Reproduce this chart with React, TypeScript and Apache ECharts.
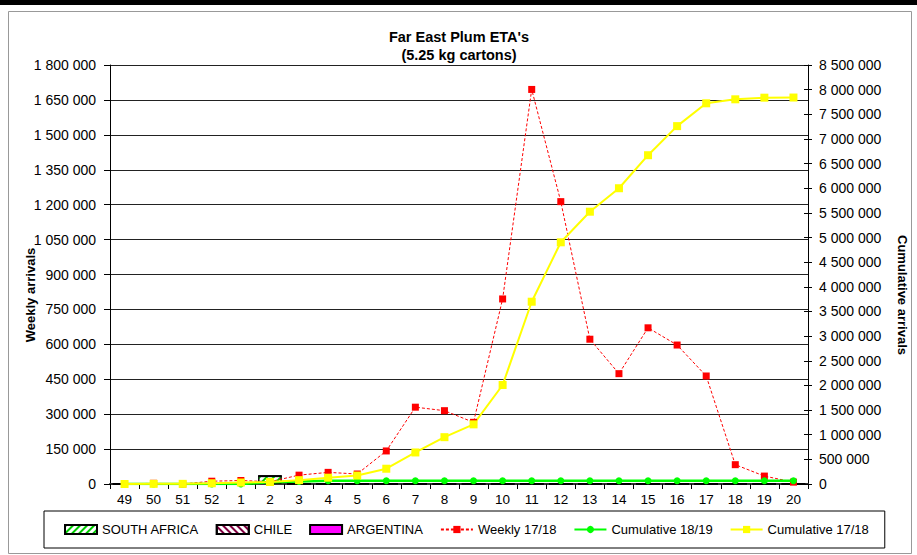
import React, { useEffect, useRef } from "react";
import * as echarts from "echarts";

const weeks = ["49","50","51","52","1","2","3","4","5","6","7","8","9","10","11","12","13","14","15","16","17","18","19","20"];
const southAfrica = [0,0,0,0,0,34000,0,0,0,0,0,0,0,0,0,0,0,0,0,0,0,0,0,0];
const chile = [0,0,0,0,0,0,0,0,0,0,0,0,0,0,0,0,0,0,0,0,0,0,0,0];
const argentina = [0,0,0,0,0,0,0,0,0,0,0,0,0,0,0,0,0,0,0,0,0,0,0,0];
const weekly1718 = [0,3000,0,12000,15000,10000,38000,50000,43000,142000,330000,315000,265000,795000,1695000,1213000,622000,474000,671000,597000,464000,83000,34000,8000];
const cumulative1819 = [0,0,0,0,0,34000,50000,65000,65000,65000,65000,65000,65000,65000,65000,65000,65000,65000,65000,65000,65000,65000,65000,65000];
const cumulative1718 = [0,3000,3000,15000,30000,40000,78000,128000,171000,310000,640000,950000,1210000,2008000,3698000,4903000,5524000,6000000,6670000,7260000,7723000,7804000,7837000,7840000];

const fmt = (v: number) => String(Math.round(v)).replace(/\B(?=(\d{3})+(?!\d))/g, " ");
const FONT = "Liberation Sans, Arial, sans-serif";

export default function App() {
  const ref = useRef<HTMLDivElement>(null);
  useEffect(() => {
    if (!ref.current) return;
    const chart = echarts.init(ref.current, null, { renderer: "svg" });
    const axisCommon = {
      axisLine: { show: true, lineStyle: { color: "#000", width: 1 } },
      axisLabel: { color: "#000", fontSize: 14, fontFamily: FONT },
    };
    chart.setOption({
      animation: false,
      backgroundColor: "#fff",
      textStyle: { fontFamily: FONT },
      title: {
        text: "Far East Plum ETA's\n(5.25 kg cartons)",
        left: 459,
        textAlign: "center",
        top: 28,
        textStyle: { fontSize: 14.5, fontWeight: "bold", color: "#000", lineHeight: 18, fontFamily: FONT },
        padding: 0,
      },
      graphic: [
        { type: "rect", shape: { x: 0, y: 0, width: 917, height: 5 }, style: { fill: "#000" }, silent: true },
        { type: "rect", shape: { x: 8.5, y: 11.5, width: 903, height: 542 }, style: { fill: "none", stroke: "#999", lineWidth: 1 }, silent: true },
        {
          type: "text",
          x: 30,
          y: 295,
          rotation: Math.PI / 2,
          style: { text: "Weekly arrivals", fontSize: 13, fontWeight: "bold", fill: "#000", fontFamily: FONT, align: "center", verticalAlign: "middle" },
          silent: true,
        },
        {
          type: "text",
          x: 902,
          y: 295,
          rotation: -Math.PI / 2,
          style: { text: "Cumulative arrivals", fontSize: 13, fontWeight: "bold", fill: "#000", fontFamily: FONT, align: "center", verticalAlign: "middle" },
          silent: true,
        },
      ],
      legend: {
        left: 44,
        top: 511,
        itemWidth: 32,
        itemHeight: 9,
        itemGap: 17,
        padding: [12, 16, 12, 20],
        borderColor: "#000",
        borderWidth: 1,
        textStyle: { fontSize: 13, color: "#000", fontFamily: FONT },
        data: [
          { name: "SOUTH AFRICA", icon: "rect" },
          { name: "CHILE", icon: "rect" },
          { name: "ARGENTINA", icon: "rect" },
          "Weekly 17/18",
          "Cumulative 18/19",
          "Cumulative 17/18",
        ],
      },
      grid: { left: 110, right: 109, top: 65, bottom: 71, containLabel: false },
      xAxis: {
        type: "category",
        data: weeks,
        boundaryGap: true,
        axisLine: { show: true, lineStyle: { color: "#333", width: 2 } },
        axisTick: { show: true, alignWithLabel: false, length: 5, lineStyle: { color: "#000" } },
        axisLabel: { color: "#000", fontSize: 13.5, fontFamily: FONT, interval: 0, margin: 8 },
      },
      yAxis: [
        {
          type: "value",
          min: 0,
          max: 1800000,
          interval: 150000,
          position: "left",
          ...axisCommon,
          axisTick: { show: true, length: 6, lineStyle: { color: "#000" } },
          axisLabel: { ...axisCommon.axisLabel, formatter: fmt, margin: 14 },
          splitLine: { show: true, lineStyle: { color: "#222", width: 1 } },
        },
        {
          type: "value",
          min: 0,
          max: 8500000,
          interval: 500000,
          position: "right",
          ...axisCommon,
          axisTick: { show: true, length: 4, lineStyle: { color: "#000" } },
          axisLabel: { ...axisCommon.axisLabel, formatter: fmt, margin: 11 },
          splitLine: { show: false },
        },
        {
          type: "value",
          min: 0,
          max: 8500000,
          interval: 500000,
          position: "right",
          axisLine: { show: false },
          axisTick: { show: true, inside: true, length: 4, lineStyle: { color: "#000" } },
          axisLabel: { show: false },
          splitLine: { show: false },
        },
      ],
      series: [
        {
          name: "SOUTH AFRICA",
          type: "bar",
          stack: "b",
          yAxisIndex: 0,
          barWidth: "80%",
          data: southAfrica,
          itemStyle: {
            color: "#fff",
            borderColor: "#000",
            borderWidth: 1,
            decal: { symbol: "rect", color: "#00cc00", dashArrayX: [1, 0], dashArrayY: [2, 3], rotation: -Math.PI / 4 },
          },
        },
        {
          name: "CHILE",
          type: "bar",
          stack: "b",
          yAxisIndex: 0,
          data: chile,
          itemStyle: {
            color: "#fff",
            borderColor: "#000",
            borderWidth: 1,
            decal: { symbol: "rect", color: "#800040", dashArrayX: [1, 0], dashArrayY: [2, 3], rotation: Math.PI / 4 },
          },
        },
        {
          name: "ARGENTINA",
          type: "bar",
          stack: "b",
          yAxisIndex: 0,
          data: argentina,
          itemStyle: { color: "#ff00ff", borderColor: "#000", borderWidth: 1 },
        },
        {
          name: "Weekly 17/18",
          type: "line",
          yAxisIndex: 0,
          data: weekly1718,
          symbol: "rect",
          symbolSize: 7,
          lineStyle: { color: "#ff0000", width: 1, type: [3, 2] },
          itemStyle: { color: "#ff0000" },
        },
        {
          name: "Cumulative 18/19",
          type: "line",
          yAxisIndex: 1,
          data: cumulative1819,
          symbol: "circle",
          symbolSize: 7,
          lineStyle: { color: "#00ff00", width: 2.5 },
          itemStyle: { color: "#00ff00" },
        },
        {
          name: "Cumulative 17/18",
          type: "line",
          yAxisIndex: 1,
          data: cumulative1718,
          symbol: "rect",
          symbolSize: 8,
          lineStyle: { color: "#ffff00", width: 2 },
          itemStyle: { color: "#ffff00" },
        },
      ],
    });
    return () => chart.dispose();
  }, []);
  return <div ref={ref} style={{ position: "fixed", left: 0, top: 0, width: 917, height: 555 }} />;
}
